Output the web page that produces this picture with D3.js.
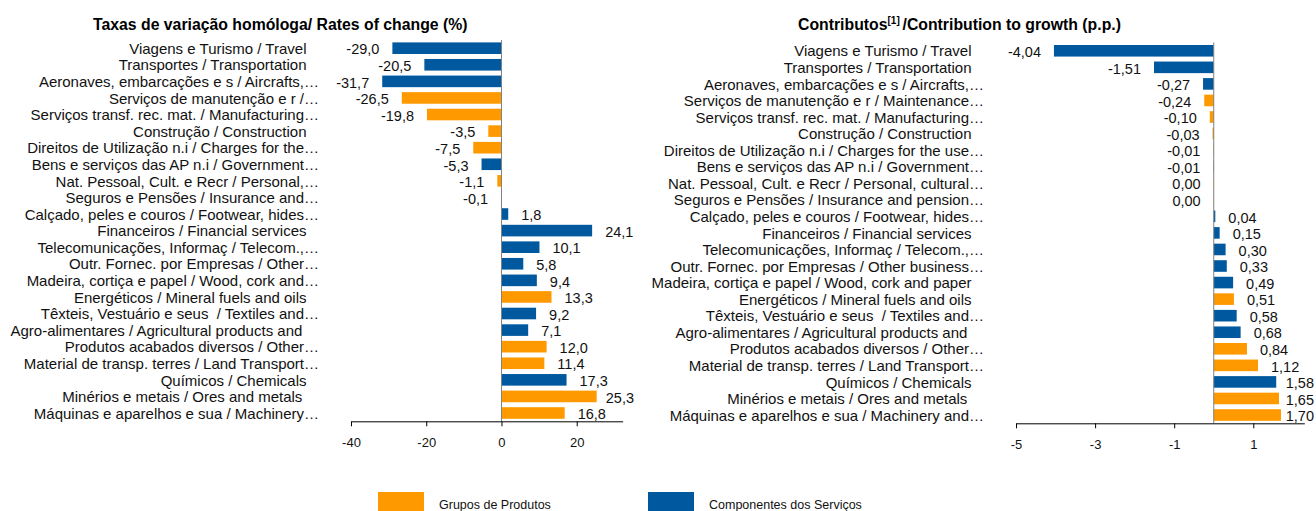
<!DOCTYPE html>
<html>
<head>
<meta charset="utf-8">
<script src="https://cdn.jsdelivr.net/npm/d3@7.9.0/dist/d3.min.js"></script>
<style>
  body { margin: 0; background: #fff; }
  svg { display: block; font-family: "Liberation Sans", Arial, sans-serif; }
  .cat { white-space: pre; }
</style>
</head>
<body>
<svg id="chart" width="1316" height="511"></svg>
<script>
// bar colour group, same for both panels (P = Grupos de Produtos, S = Componentes dos Serviços)
const groups = ["S","S","S","P","P","P","P","S","P","P","S","S","S","S","S","P","S","S","P","P","S","P","P"];

const labelsRate = [
  "Viagens e Turismo / Travel   ",
  "Transportes / Transportation   ",
  "Aeronaves, embarcações e s / Aircrafts,…",
  "Serviços de manutenção e r /…",
  "Serviços transf. rec. mat. / Manufacturing…",
  "Construção / Construction   ",
  "Direitos de Utilização n.i / Charges for the…",
  "Bens e serviços das AP n.i / Government…",
  "Nat. Pessoal, Cult. e Recr / Personal,…",
  "Seguros e Pensões / Insurance and…",
  "Calçado, peles e couros / Footwear, hides…",
  "Financeiros / Financial services   ",
  "Telecomunicações, Informaç / Telecom.,…",
  "Outr. Fornec. por Empresas / Other…",
  "Madeira, cortiça e papel / Wood, cork and…",
  "Energéticos / Mineral fuels and oils   ",
  "Têxteis, Vestuário e seus  / Textiles and…",
  "Agro-alimentares / Agricultural products and    ",
  "Produtos acabados diversos / Other…",
  "Material de transp. terres / Land Transport…",
  "Químicos / Chemicals   ",
  "Minérios e metais / Ores and metals    ",
  "Máquinas e aparelhos e sua / Machinery…"
];

const labelsContrib = [
  "Viagens e Turismo / Travel   ",
  "Transportes / Transportation   ",
  "Aeronaves, embarcações e s / Aircrafts,…",
  "Serviços de manutenção e r / Maintenance…",
  "Serviços transf. rec. mat. / Manufacturing…",
  "Construção / Construction   ",
  "Direitos de Utilização n.i / Charges for the use…",
  "Bens e serviços das AP n.i / Government…",
  "Nat. Pessoal, Cult. e Recr / Personal, cultural…",
  "Seguros e Pensões / Insurance and pension…",
  "Calçado, peles e couros / Footwear, hides…",
  "Financeiros / Financial services   ",
  "Telecomunicações, Informaç / Telecom.,…",
  "Outr. Fornec. por Empresas / Other business…",
  "Madeira, cortiça e papel / Wood, cork and paper   ",
  "Energéticos / Mineral fuels and oils   ",
  "Têxteis, Vestuário e seus  / Textiles and…",
  "Agro-alimentares / Agricultural products and    ",
  "Produtos acabados diversos / Other…",
  "Material de transp. terres / Land Transport…",
  "Químicos / Chemicals   ",
  "Minérios e metais / Ores and metals    ",
  "Máquinas e aparelhos e sua / Machinery and…"
];

const rates = [-29.0, -20.5, -31.7, -26.5, -19.8, -3.5, -7.5, -5.3, -1.1, -0.1, 1.8, 24.1, 10.1, 5.8, 9.4, 13.3, 9.2, 7.1, 12.0, 11.4, 17.3, 25.3, 16.8];
const contribs = [-4.04, -1.51, -0.27, -0.24, -0.10, -0.03, -0.01, -0.01, -0.004, -0.003, 0.04, 0.15, 0.30, 0.33, 0.49, 0.51, 0.58, 0.68, 0.84, 1.12, 1.58, 1.65, 1.70];

const rateTicks = [-40, -20, 0, 20];
const contribTicks = [-5, -3, -1, 1];

const legendNames = ["Grupos de Produtos", "Componentes dos Serviços"];

const colors = { P: "#ff9900", S: "#00599f" };

const svg = d3.select("#chart");

function drawPanel(opt) {
  const idx = d3.range(opt.values.length);
  const x = d3.scaleLinear().domain(opt.domain).range(opt.xRange);
  const y = d3.scaleBand().domain(idx).range(opt.yRange).paddingInner(0.3).paddingOuter(0.15);
  const g = svg.append("g");

  // bars
  g.selectAll(".bar")
    .data(idx)
    .join("rect")
    .attr("class", "bar")
    .attr("x", i => x(Math.min(0, opt.values[i])))
    .attr("y", i => y(i))
    .attr("width", i => Math.abs(x(opt.values[i]) - x(0)))
    .attr("height", y.bandwidth())
    .attr("fill", i => colors[groups[i]]);

  // zero line
  g.append("line")
    .attr("x1", x(0)).attr("x2", x(0))
    .attr("y1", opt.yRange[0]).attr("y2", opt.yRange[1])
    .attr("stroke", "#808080").attr("stroke-width", 1);

  // category labels
  g.selectAll(".cat")
    .data(idx)
    .join("text")
    .attr("class", "cat")
    .attr("x", opt.labelX)
    .attr("y", i => y(i) + y.bandwidth() / 2)
    .attr("dy", "0.38em")
    .attr("text-anchor", "end")
    .attr("font-size", "15px")
    .attr("fill", "#111")
    .text(i => opt.labels[i]);

  // value labels
  g.selectAll(".val")
    .data(idx)
    .join("text")
    .attr("class", "val")
    .attr("y", i => y(i) + y.bandwidth() / 2)
    .attr("dy", "0.43em")
    .attr("font-size", "14.5px")
    .attr("fill", "#111")
    .text(i => {
      let v = opt.values[i];
      if (Math.abs(v) < 0.5 * Math.pow(10, -opt.dec)) v = 0;
      return v.toFixed(opt.dec).replace(".", ",");
    })
    .each(function(i) {
      const v = opt.values[i];
      const t = d3.select(this);
      if (v < 0) {
        t.attr("text-anchor", "end").attr("x", x(v) - 13);
      } else {
        const w = this.getComputedTextLength();
        t.attr("text-anchor", "start").attr("x", Math.min(x(v) + 13, opt.maxX - w));
      }
    });

  // axis
  const axis = g.append("g")
    .attr("transform", `translate(0,${opt.yRange[1]})`)
    .call(d3.axisBottom(x).tickValues(opt.ticks).tickFormat(d => String(d))
      .tickSize(5).tickSizeOuter(0).tickPadding(11));
  axis.select(".domain").attr("stroke", "#000");
  axis.selectAll(".tick line").attr("stroke", "#000");
  axis.selectAll("text")
    .attr("font-size", "13px")
    .attr("font-family", "'Liberation Sans', Arial, sans-serif")
    .attr("fill", "#111");
}

drawPanel({
  values: rates, labels: labelsRate, dec: 1,
  domain: [-40, 32.2], xRange: [351, 622.6], yRange: [39.9, 421.3],
  ticks: rateTicks, labelX: 319, maxX: 634
});

drawPanel({
  values: contribs, labels: labelsContrib, dec: 2,
  domain: [-5, 2.29], xRange: [1016, 1304.3], yRange: [42.5, 423.3],
  ticks: contribTicks, labelX: 984, maxX: 1314
});

// titles
svg.append("text")
  .attr("x", 93).attr("y", 30)
  .attr("font-size", "15.8px").attr("font-weight", "bold").attr("fill", "#000")
  .text("Taxas de variação homóloga/ Rates of change (%)");

const t2 = svg.append("text")
  .attr("x", 798).attr("y", 29.5)
  .attr("font-size", "15.8px").attr("font-weight", "bold").attr("fill", "#000")
  .style("white-space", "pre");
t2.append("tspan").text("Contributos");
t2.append("tspan").attr("font-size", "10px").attr("dy", -6).text("[1] ");
t2.append("tspan").attr("dy", 6).text("/Contribution to growth (p.p.)");

// legend
const legend = svg.append("g");
const legendX = [378, 648];
legendNames.forEach((name, i) => {
  legend.append("rect")
    .attr("x", legendX[i]).attr("y", 492)
    .attr("width", 46).attr("height", 20)
    .attr("fill", colors[i === 0 ? "P" : "S"]);
  legend.append("text")
    .attr("x", legendX[i] + 61).attr("y", 509)
    .attr("font-size", "12.5px").attr("fill", "#111")
    .text(name);
});
</script>
</body>
</html>
